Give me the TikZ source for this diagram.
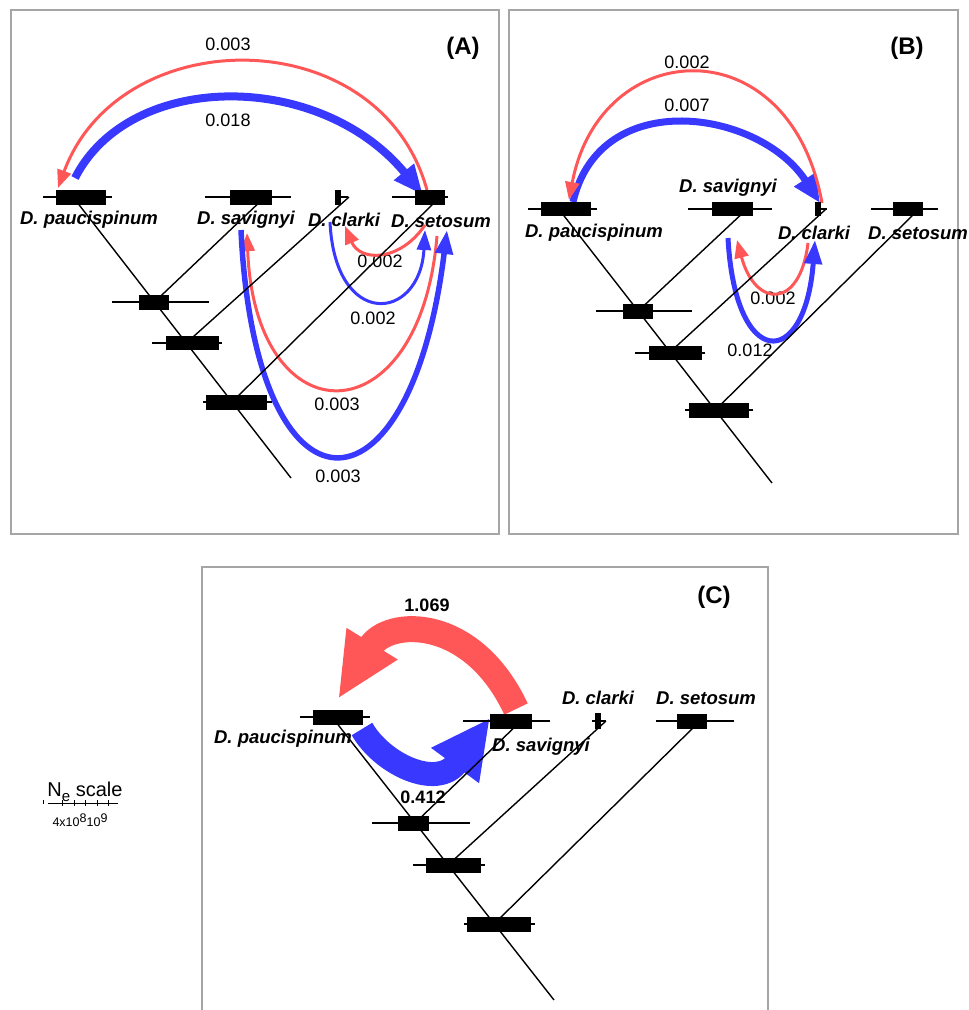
\documentclass[tikz,border=0pt]{standalone}
\usepackage{fontspec}
\setmainfont{Liberation Sans}
\usetikzlibrary{arrows.meta}

\definecolor{flowred}{RGB}{255,87,87}
\definecolor{flowblue}{RGB}{56,56,255}
\definecolor{framegray}{RGB}{165,165,165}

% N_e bar: whisker from #1 to #2, box from #3 to #4, at height #5, box half height #6
\newcommand{\nebar}[6]{%
  \draw[whisker] (#1,#5) -- (#2,#5);
  \fill[black] (#3,#5-#6) rectangle (#4,#5+#6);
}

\begin{document}
\begin{tikzpicture}[
  x=1pt, y=-1pt,
  panelframe/.style={draw=framegray, line width=1.3pt},
  branch/.style={draw=black, line width=1.4pt},
  whisker/.style={draw=black, line width=1.6pt},
  taxon/.style={font=\fontsize{18.5}{20}\selectfont\bfseries\itshape, inner sep=0pt},
  rate/.style={font=\fontsize{18}{20}\selectfont, inner sep=0pt},
  boldrate/.style={font=\fontsize{18}{20}\selectfont\bfseries, inner sep=0pt},
  paneltag/.style={font=\fontsize{24}{26}\selectfont\bfseries, inner sep=0pt},
  thinred/.style={draw=flowred, line width=3pt, -{Triangle[length=18pt,width=14pt]}},
  thinblue/.style={draw=flowblue, line width=3pt, -{Triangle[length=20pt,width=14pt]}},
  midblue/.style={draw=flowblue, line width=5.5pt, -{Triangle[length=24pt,width=17pt]}},
  wideblue/.style={draw=flowblue, line width=8pt, -{Triangle[length=30pt,width=24pt]}},
  broadred/.style={draw=flowred, line width=26pt, -{Triangle[length=65pt,width=55pt]}},
  broadblue/.style={draw=flowblue, line width=24pt, -{Triangle[length=59pt,width=55pt]}},
]
\useasboundingbox (0,0) rectangle (969,1010);

% ---------------- panel frames ----------------
\draw[panelframe] (11,10) rectangle (499,534);
\draw[panelframe] (509,10) rectangle (958,534);
\draw[panelframe] (202,1012) -- (202,567) -- (768,567) -- (768,1012);

\node[paneltag] at (463,48) {(A)};
\node[paneltag] at (907,48) {(B)};
\node[paneltag] at (714,597) {(C)};

% ================= panel A =================
\coordinate (A-pau) at (73,197);
\coordinate (A-sav) at (265,197);
\coordinate (A-cla) at (349,197);
\coordinate (A-set) at (440,197);
\coordinate (A-n1) at (154.5,302);
\coordinate (A-n2) at (186.3,343);
\coordinate (A-n3) at (232,402);
\coordinate (A-root) at (291,478);

\node[taxon] (A-paulab) at (89,220) {D. paucispinum};
\node[taxon] (A-savlab) at (246,220) {D. savignyi};
\node[taxon] (A-clalab) at (344,220) {D. clarki};
\node[taxon] (A-setlab) at (441,221) {D. setosum};

\node[rate] at (228,44) {0.003};
\node[rate] at (228,120) {0.018};
\node[rate] at (380,261) {0.002};
\node[rate] at (373,318) {0.002};
\node[rate] at (337,404) {0.003};
\node[rate] at (338,476) {0.003};

% gene flow, panel A
\coordinate (A-f1s) at (75,178);   \coordinate (A-f1e) at (423,195);
\coordinate (A-f2s) at (427,190);  \coordinate (A-f2e) at (58,188);
\coordinate (A-f3s) at (425,225);  \coordinate (A-f3e) at (345,226);
\coordinate (A-f4s) at (330,222);  \coordinate (A-f4e) at (425,230);
\coordinate (A-f5s) at (437,236);  \coordinate (A-f5e) at (247,233);
\coordinate (A-f6s) at (241,230);  \coordinate (A-f6e) at (447,230);
\draw[wideblue] (A-f1s) .. controls (130,70) and (320,70) .. (A-f1e);
\draw[thinred] (A-f2s) .. controls (380,20) and (120,20) .. (A-f2e);
\draw[thinred] (A-f3s) .. controls (400,262) and (360,262) .. (A-f3e);
\draw[thinblue] (A-f4s) .. controls (335,330) and (420,322) .. (A-f4e);
\draw[thinred] (A-f5s) .. controls (420,440) and (255,440) .. (A-f5e);
\draw[midblue] (A-f6s) .. controls (255,530) and (410,530) .. (A-f6e);

% tree, panel A
\draw[branch] (A-pau) -- (A-root);
\draw[branch] (A-sav) -- (A-n1);
\draw[branch] (A-cla) -- (A-n2);
\draw[branch] (A-set) -- (A-n3);

\nebar{43}{112}{56}{106}{197}{7.5}
\nebar{205}{291}{230}{272}{197}{7.5}
\nebar{335}{348}{335}{341}{197}{7.5}
\nebar{392}{448}{415}{445}{197}{7.5}
\nebar{112}{209}{139}{169}{302}{7.5}
\nebar{152}{222}{166}{219}{343}{7}
\nebar{203}{272}{206}{267}{402}{7.5}

% ================= panel B =================
\coordinate (B-pau) at (558.7,209);
\coordinate (B-sav) at (747,209);
\coordinate (B-cla) at (826,209);
\coordinate (B-set) at (919,209);
\coordinate (B-n1) at (638.2,311);
\coordinate (B-n2) at (670.1,352);
\coordinate (B-n3) at (715.3,410);
\coordinate (B-root) at (772,483);

\node[taxon] (B-paulab) at (594,233) {D. paucispinum};
\node[taxon] (B-savlab) at (728,188) {D. savignyi};
\node[taxon] (B-clalab) at (814,233) {D. clarki};
\node[taxon] (B-setlab) at (918,233) {D. setosum};

\node[rate] at (687,62) {0.002};
\node[rate] at (687,105) {0.007};
\node[rate] at (773,298) {0.002};
\node[rate] at (750,350) {0.012};

% gene flow, panel B
\coordinate (B-f1s) at (573,202);  \coordinate (B-f1e) at (820,203);
\coordinate (B-f2s) at (822,203);  \coordinate (B-f2e) at (569,200);
\coordinate (B-f3s) at (808,243);  \coordinate (B-f3e) at (737,240);
\coordinate (B-f4s) at (728,238);  \coordinate (B-f4e) at (815,240);
\draw[wideblue, line width=7pt, -{Triangle[length=28pt,width=24pt]}] (B-f1s) .. controls (600,85) and (760,110) .. (B-f1e);
\draw[thinred] (B-f2s) .. controls (790,25) and (600,35) .. (B-f2e);
\draw[thinred] (B-f3s) .. controls (800,310) and (755,308) .. (B-f3e);
\draw[midblue, line width=5pt] (B-f4s) .. controls (735,371) and (805,371) .. (B-f4e);

% tree, panel B
\draw[branch] (B-pau) -- (B-root);
\draw[branch] (B-sav) -- (B-n1);
\draw[branch] (B-cla) -- (B-n2);
\draw[branch] (B-set) -- (B-n3);

\nebar{528}{597}{541}{591}{209}{7}
\nebar{688}{772}{712}{753}{209}{7}
\nebar{815}{827}{815}{821}{209}{7}
\nebar{871}{938}{893}{923}{209}{7}
\nebar{596}{692}{623}{653}{311}{7.5}
\nebar{635}{705}{649}{702}{353}{7}
\nebar{685}{753}{689}{749}{410}{7.5}

% ================= panel C =================
\coordinate (C-pau) at (332,717);
\coordinate (C-sav) at (521,721);
\coordinate (C-cla) at (606,721);
\coordinate (C-set) at (700,721);
\coordinate (C-n1) at (415,823);
\coordinate (C-n2) at (448,865);
\coordinate (C-n3) at (494,924);
\coordinate (C-root) at (554,1000);

\node[taxon] (C-paulab) at (283,739) {D. paucispinum};
\node[taxon] (C-savlab) at (541,747) {D. savignyi};
\node[taxon] (C-clalab) at (598,698) {D. clarki};
\node[taxon] (C-setlab) at (706,698) {D. setosum};

\node[boldrate] at (427,605) {1.069};
\node[boldrate] at (423,797) {0.412};

% gene flow, panel C (last control point lies on the tip axis)
\coordinate (C-f1s) at (516,709);  \coordinate (C-f1e) at (338,699);
\coordinate (C-f2s) at (362,729);  \coordinate (C-f2e) at (490,718);
\draw[broadred] (C-f1s) .. controls (472,615) and (388,618) .. (C-f1e);
\draw[broadblue] (C-f2s) .. controls (382,764) and (437,790) .. (C-f2e);

% tree, panel C
\draw[branch] (C-pau) -- (C-root);
\draw[branch] (C-sav) -- (C-n1);
\draw[branch] (C-cla) -- (C-n2);
\draw[branch] (C-set) -- (C-n3);

\nebar{300}{370}{313}{363}{717}{7.5}
\nebar{463}{550}{490}{532}{721}{7.5}
\nebar{592}{606}{595}{601}{721}{8}
\nebar{656}{734}{677}{707}{721}{7.5}
\nebar{372}{470}{398}{429}{823}{7.5}
\nebar{413}{485}{426}{481}{865}{7.5}
\nebar{464}{535}{467}{531}{924}{7.5}

% ================= N_e scale =================
\node[font=\fontsize{20}{22}\selectfont, inner sep=0pt] (scalelab) at (85,792)
  {N\raisebox{-0.45ex}{\fontsize{15}{15}\selectfont e} scale};
\coordinate (sc-l) at (48,803);
\coordinate (sc-r) at (118,803);
\draw[line width=1pt] (sc-l) -- (sc-r);
\foreach \t in {62,74,85,97,108} \draw[line width=1pt] (\t,800) -- (\t,806);
\draw[line width=1pt] (43,800) -- (43,804);
\node[font=\fontsize{12.5}{13}\selectfont, inner sep=0pt] (scaleticks) at (80,820)
  {4x10\raisebox{0.6ex}{8}10\raisebox{0.6ex}{9}};

\end{tikzpicture}
\end{document}
